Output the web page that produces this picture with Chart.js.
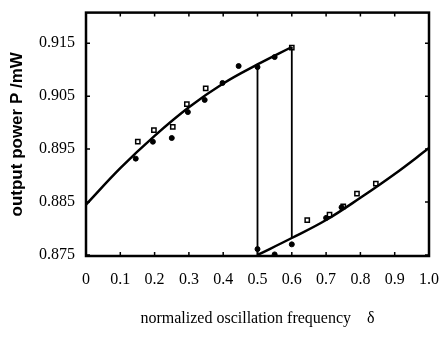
<!DOCTYPE html>
<html>
<head>
<meta charset="utf-8">
<script src="https://cdn.jsdelivr.net/npm/chart.js@4/dist/chart.umd.min.js"></script>
<style>
  html, body { margin: 0; padding: 0; background: #fff; }
  #wrap { width: 445px; height: 346px; }
</style>
</head>
<body>
<div id="wrap"><canvas id="myPower" width="445" height="346"></canvas></div>
<script>
// fitted curves
const upperX = [0, 0.1, 0.2, 0.3, 0.4, 0.5, 0.6];
const upperP = [0.8845, 0.8914, 0.8975, 0.9029, 0.9074, 0.911, 0.9143];
const lowerX = [0.5, 0.6, 0.7, 0.8, 0.9, 1.0];
const lowerP = [0.875, 0.8782, 0.8816, 0.8858, 0.8903, 0.8952];

// measured points (filled dots / open squares)
const dotX = [0.145, 0.195, 0.25, 0.297, 0.346, 0.398, 0.445, 0.5, 0.55, 0.5, 0.55, 0.6, 0.70, 0.745];
const dotP = [0.8932, 0.8964, 0.8971, 0.902, 0.9043, 0.9075, 0.9107, 0.9105, 0.9124, 0.8761, 0.8751, 0.877, 0.882, 0.884];
const squareX = [0.151, 0.198, 0.253, 0.294, 0.349, 0.6, 0.645, 0.71, 0.75, 0.79, 0.845];
const squareP = [0.8964, 0.8986, 0.8992, 0.9035, 0.9065, 0.9142, 0.8816, 0.8826, 0.8842, 0.8866, 0.8885];

const xTicks = [0, 0.1, 0.2, 0.3, 0.4, 0.5, 0.6, 0.7, 0.8, 0.9, 1.0];
const yTicks = [0.875, 0.885, 0.895, 0.905, 0.915];

const pts = (xs, ys) => xs.map((x, i) => ({ x: x, y: ys[i] }));

// box round the plot with small inward ticks
const frame = {
  id: "frame",
  afterDatasetsDraw(chart) {
    const { ctx, chartArea: a, scales } = chart;
    ctx.save();
    ctx.strokeStyle = "#000";
    ctx.lineWidth = 2.5;
    ctx.strokeRect(a.left, a.top, a.right - a.left, a.bottom - a.top);
    ctx.lineWidth = 1.5;
    ctx.beginPath();
    xTicks.forEach((v) => {
      const px = scales.x.getPixelForValue(v);
      ctx.moveTo(px, a.bottom); ctx.lineTo(px, a.bottom - 4);
      ctx.moveTo(px, a.top); ctx.lineTo(px, a.top + 4);
    });
    yTicks.forEach((v) => {
      const py = scales.y.getPixelForValue(v);
      ctx.moveTo(a.left, py); ctx.lineTo(a.left + 4, py);
      ctx.moveTo(a.right, py); ctx.lineTo(a.right - 4, py);
    });
    ctx.stroke();
    ctx.restore();
  },
};

const serif = "'Liberation Serif', 'Times New Roman', serif";
const ctx = document.getElementById("myPower").getContext("2d");

const myChart = new Chart(ctx, {
  type: "scatter",
  data: {
    datasets: [
      {
        data: pts(upperX, upperP),
        showLine: true,
        borderColor: "#000",
        borderWidth: 2.5,
        pointRadius: 0,
        tension: 0.4,
      },
      {
        data: pts(lowerX, lowerP),
        showLine: true,
        borderColor: "#000",
        borderWidth: 2.5,
        pointRadius: 0,
        tension: 0.4,
      },
      {
        data: [
          { x: upperX[5], y: lowerP[0] },
          { x: upperX[5], y: upperP[5] },
        ],
        showLine: true,
        borderColor: "#000",
        borderWidth: 1.8,
        pointRadius: 0,
      },
      {
        data: [
          { x: upperX[6], y: lowerP[1] },
          { x: upperX[6], y: upperP[6] },
        ],
        showLine: true,
        borderColor: "#000",
        borderWidth: 1.8,
        pointRadius: 0,
      },
      {
        data: pts(dotX, dotP),
        pointStyle: "circle",
        pointRadius: 2.5,
        backgroundColor: "#000",
        borderColor: "#000",
        borderWidth: 1,
      },
      {
        data: pts(squareX, squareP),
        pointStyle: "rect",
        pointRadius: 3,
        backgroundColor: "#fff",
        borderColor: "#000",
        borderWidth: 1.5,
      },
    ],
  },
  options: {
    responsive: false,
    animation: false,
    layout: { padding: { top: 10, right: 15, left: 0, bottom: 0 } },
    scales: {
      x: {
        type: "linear",
        min: 0,
        max: 1,
        afterBuildTicks: (s) => { s.ticks = xTicks.map((v) => ({ value: v })); },
        afterFit: (s) => { s.height = 90; },
        grid: { display: false },
        border: { display: false },
        ticks: {
          color: "#000",
          padding: 6,
          maxRotation: 0,
          font: { family: serif, size: 16 },
          callback: (v) => (v === 0 ? "0" : v.toFixed(1)),
        },
        title: {
          display: true,
          text: "normalized oscillation frequency    δ",
          color: "#000",
          font: { family: serif, size: 16 },
          padding: { top: 0, bottom: 18 },
        },
      },
      y: {
        type: "linear",
        min: 0.8748,
        max: 0.9208,
        afterBuildTicks: (s) => { s.ticks = yTicks.map((v) => ({ value: v })); },
        afterFit: (s) => { s.width = 86; },
        grid: { display: false },
        border: { display: false },
        ticks: {
          color: "#000",
          padding: 3,
          font: { family: serif, size: 16 },
          callback: (v) => v.toFixed(3),
        },
        title: {
          display: true,
          text: "output power P /mW",
          color: "#000",
          font: { family: "'Liberation Sans', Arial, sans-serif", size: 17, weight: "bold" },
          padding: { top: 7, bottom: 0 },
        },
      },
    },
    plugins: {
      legend: { display: false },
      tooltip: { enabled: false },
    },
  },
  plugins: [frame],
});
</script>
</body>
</html>
